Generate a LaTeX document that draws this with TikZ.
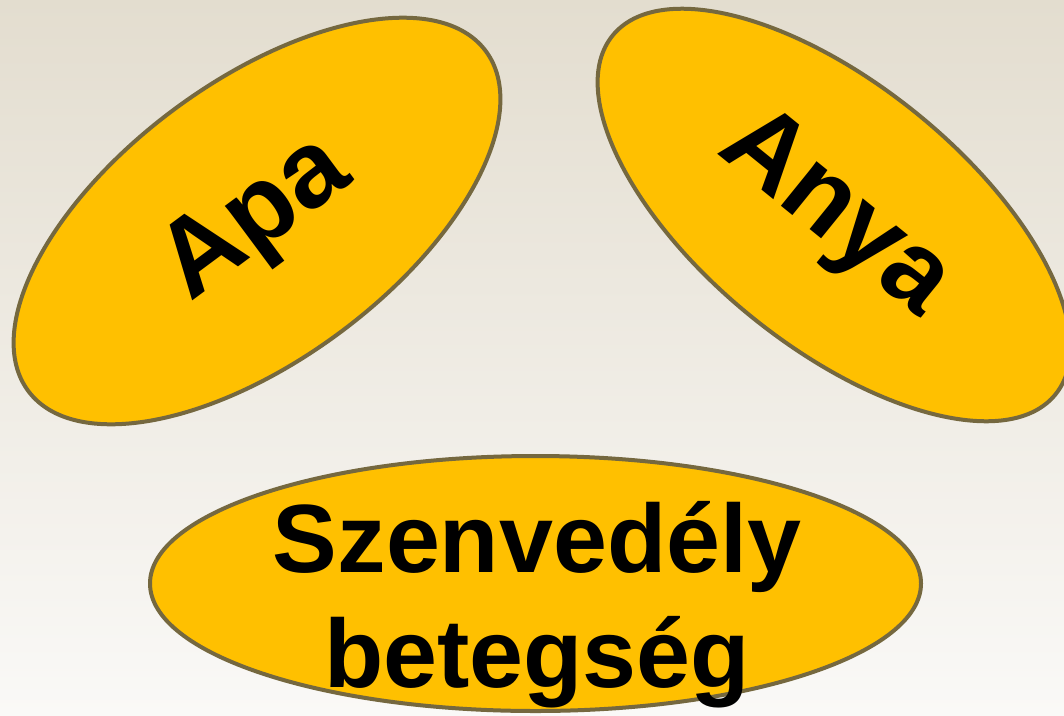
\documentclass[tikz,border=0pt]{standalone}
\usepackage{fontspec}
\setmainfont{Liberation Sans}
\usetikzlibrary{shapes.geometric}
\definecolor{ovalGold}{HTML}{FFC000}
\definecolor{ovalRim}{HTML}{75683F}
\definecolor{bgTop}{HTML}{E3DDCF}
\definecolor{bgBottom}{HTML}{FAF9F7}

\begin{document}
\begin{tikzpicture}[x=1pt, y=-1pt]
        % Styles
        \tikzstyle{oval} = [ellipse, draw=ovalRim, line width=4pt, fill=ovalGold, inner sep=0pt, text=black, font=\bfseries\fontsize{108}{130}\selectfont]
        \tikzstyle{parent} = [oval, minimum width=570pt]

        % Background
        \useasboundingbox (0,0) rectangle (1064,715);
        \shade[top color=bgTop, bottom color=bgBottom] (0,0) rectangle (1064,715);

        % Nodes
        \node (apa) [parent, minimum height=278pt, rotate=36.6] at (257,221) {Apa};
        \node (anya) [parent, minimum height=262pt, rotate=-39] at (834,215) {Anya};
        \node (szenv) [oval, minimum width=771pt, minimum height=255pt] at (535.5,583.5) {};
        \node (szenvtext) [font=\bfseries\fontsize{97}{115}\selectfont, align=center] at (537,605) {Szenvedély\\betegség};
\end{tikzpicture}
\end{document}
